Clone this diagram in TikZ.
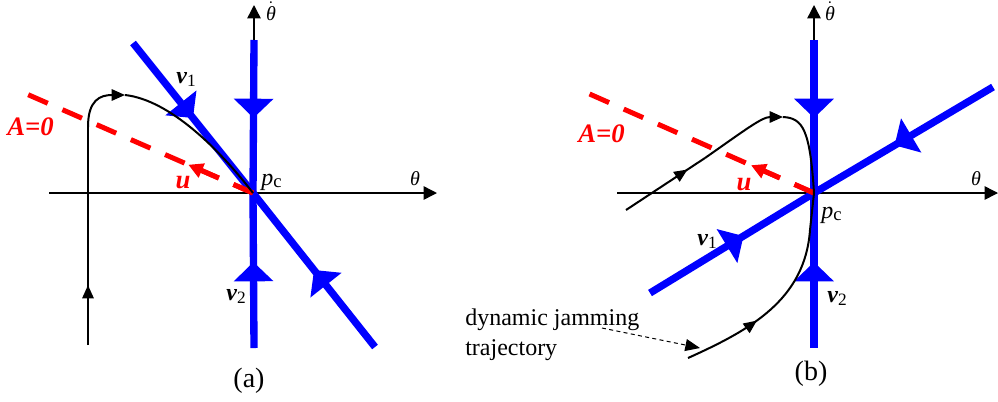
\documentclass[tikz,border=0pt]{standalone}
\usepackage{fontspec}
\setmainfont{Liberation Serif}
\usetikzlibrary{arrows.meta, decorations.markings, calc}

\newcommand{\vlbl}[1]{\textbf{\textit{v}}\raisebox{-0.3ex}{\fontsize{13}{13}\selectfont #1}}
\newcommand{\pclbl}{\textit{p}\raisebox{-0.25ex}{\fontsize{14}{14}\selectfont c}}

\begin{document}
\begin{tikzpicture}[x=0.75pt, y=-0.75pt,
  every node/.style={font=\fontsize{18}{22.5}\selectfont, inner sep=0pt},
  axis/.style={line width=1.1pt, -{Triangle[length=10pt, width=10pt]}},
  blueline/.style={line width=5.5pt, blue},
  bluetip/.style={postaction=decorate, decoration={markings, mark=at position #1 with {\arrow[blue]{Triangle[length=14.5pt, width=29pt]}}}},
  traj/.style={line width=1.5pt},
  trajtip/.style={postaction=decorate, decoration={markings, mark=at position #1 with {\arrow{Triangle[length=10pt, width=8.5pt]}}}},
  endtip/.style={-{Triangle[length=10pt, width=8.5pt]}},
  jam/.style={red, line width=3.75pt, dash pattern=on 16pt off 12pt},
  redlbl/.style={red, font=\fontsize{20}{24}\selectfont\bfseries\itshape},
  axlbl/.style={font=\fontsize{15}{18}\selectfont\itshape},
  caplbl/.style={font=\fontsize{21}{25}\selectfont}
]
  \useasboundingbox (0,0) rectangle (998,401);

  % ---------- (a) ----------
  \coordinate (pca) at (253,193);
  \coordinate (xa0) at (49,193);   \coordinate (xa1) at (437,193);
  \coordinate (ya0) at (254,345);  \coordinate (ya1) at (254,5);
  \coordinate (v1atop) at (133,43); \coordinate (v1abot) at (375,347);
  \coordinate (v2atop) at (254,40); \coordinate (v2abot) at (254,348);
  \coordinate (jama) at (22,92);
  \coordinate (ua) at ($(pca)!0.28!(jama)$);
  \coordinate (ta0) at (88,345); \coordinate (ta1) at (88,127); \coordinate (ta2) at (125,95);

  \draw[axis] (xa0) -- (xa1);
  \draw[axis] (ya0) -- (ya1);

  \draw[blueline, bluetip=0.5] (v1atop) -- (pca);
  \draw[blueline, bluetip=0.5] (v1abot) -- (pca);
  \draw[blueline, bluetip=0.51] (v2atop) -- (pca);
  \draw[blueline, bluetip=0.555] (v2abot) -- (pca);

  \draw[jam] (pca) -- (jama);
  \draw[jam, -{Triangle[length=11pt, width=11pt]}] (pca) -- (ua);

  \draw[traj, trajtip=0.275] (ta0) -- (ta1);
  \draw[traj, endtip] (ta1) .. controls (88,100) and (100,95) .. (ta2);
  \draw[traj] (ta2) .. controls (170,100) and (220,150) .. (pca);

  \node[axlbl, anchor=base] (tdota) at (271,20) {$\dot{\hbox{θ}}$};
  \node[axlbl, anchor=base] (tha) at (415,185) {θ};
  \node[anchor=base west] (pcla) at (261,185) {\pclbl};
  \node[anchor=base west] (v1la) at (176,83) {\vlbl{1}};
  \node[anchor=base west] (v2la) at (226,300) {\vlbl{2}};
  \node[redlbl, anchor=base] (ula) at (183,188) {u};
  \node[redlbl, anchor=base west] (Aa) at (7,135) {A=0};
  \node[caplbl, anchor=base] (capa) at (249,387) {(a)};

  % ---------- (b) ----------
  \coordinate (pcb) at (814,193);
  \coordinate (xb0) at (617,193);  \coordinate (xb1) at (998,193);
  \coordinate (yb0) at (814,345);  \coordinate (yb1) at (814,5);
  \coordinate (v1btop) at (993,87); \coordinate (v1bbot) at (650,293);
  \coordinate (v2btop) at (814,40); \coordinate (v2bbot) at (814,348);
  \coordinate (jamb) at (585,92);
  \coordinate (ub) at ($(pcb)!0.275!(jamb)$);
  \coordinate (tb0) at (626,210); \coordinate (tb1) at (705,158); \coordinate (tb2) at (783,117);
  \coordinate (tb3) at (688,358);
  \coordinate (dyntail) at (602,328); \coordinate (dynhead) at (700,348);

  \draw[axis] (xb0) -- (xb1);
  \draw[axis] (yb0) -- (yb1);

  \draw[blueline, bluetip=0.55] (v1btop) -- (pcb);
  \draw[blueline, bluetip=0.57] (v1bbot) -- (pcb);
  \draw[blueline, bluetip=0.51] (v2btop) -- (pcb);
  \draw[blueline, bluetip=0.555] (v2bbot) -- (pcb);

  \draw[jam] (pcb) -- (jamb);
  \draw[jam, -{Triangle[length=11pt, width=11pt]}] (pcb) -- (ub);

  \draw[traj, trajtip=0.78] (tb0) -- (tb1);
  \draw[traj, endtip] (tb1) .. controls (745,130) and (762,117) .. (tb2);
  \draw[traj] (tb2) .. controls (803,118) and (810,130) .. (pcb);
  \draw[traj, trajtip=0.35] (tb3) .. controls (750,330) and (805,300) .. (810,230) -- (pcb);

  \node[axlbl, anchor=base] (tdotb) at (830,20) {$\dot{\hbox{θ}}$};
  \node[axlbl, anchor=base] (thb) at (976,185) {θ};
  \node[anchor=base west] (pclb) at (821,218) {\pclbl};
  \node[anchor=base west] (v1lb) at (697,245) {\vlbl{1}};
  \node[anchor=base west] (v2lb) at (827,302) {\vlbl{2}};
  \node[redlbl, anchor=base] (ulb) at (744,190) {u};
  \node[redlbl, anchor=base west] (Ab) at (578,142) {A=0};
  \node[caplbl, anchor=base] (capb) at (811,380) {(b)};

  \node[align=left, anchor=north west] (dyn) at (465,309) {dynamic jamming\\trajectory};
  \draw[line width=0.75pt, dash pattern=on 3pt off 2.5pt, -{Triangle[length=11pt, width=9pt]}] (dyntail) -- (dynhead);
\end{tikzpicture}
\end{document}
